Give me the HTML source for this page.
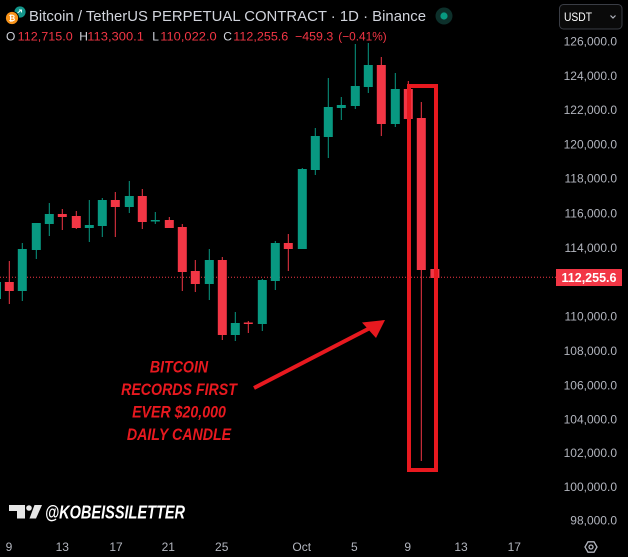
<!DOCTYPE html>
<html><head><meta charset="utf-8"><style>
html,body{margin:0;padding:0;background:#000;}
svg{display:block;}
</style></head><body>
<svg width="628" height="557" viewBox="0 0 628 557" xmlns="http://www.w3.org/2000/svg" font-family="'Liberation Sans', sans-serif">
<rect width="628" height="557" fill="#000"/>

<!-- header -->
<circle cx="20" cy="12" r="5.6" fill="#12958a"/>
<path d="M17.5 13 L21.5 10 M19 10 L21.5 10 L21.5 12.5" stroke="#e8fffb" stroke-width="1" fill="none"/>
<circle cx="12" cy="18" r="7" fill="#000"/>
<circle cx="12" cy="18" r="6.1" fill="#f7931a"/>
<text x="12" y="21" font-size="8" font-weight="bold" fill="#fff" text-anchor="middle">₿</text>
<text x="29" y="21" font-size="14.5" fill="#d1d4dc" textLength="397" lengthAdjust="spacingAndGlyphs">Bitcoin / TetherUS PERPETUAL CONTRACT · 1D · Binance</text>
<circle cx="444" cy="16" r="8.5" fill="#0d302b"/>
<circle cx="444" cy="16" r="3.6" fill="#089981"/>

<g font-size="12">
<text x="6" y="40.5" fill="#d1d4dc">O</text>
<text x="17.7" y="40.5" fill="#f23645" textLength="55" lengthAdjust="spacingAndGlyphs">112,715.0</text>
<text x="79.3" y="40.5" fill="#d1d4dc">H</text>
<text x="87.3" y="40.5" fill="#f23645" textLength="56.7" lengthAdjust="spacingAndGlyphs">113,300.1</text>
<text x="152.3" y="40.5" fill="#d1d4dc">L</text>
<text x="160.3" y="40.5" fill="#f23645" textLength="56.4" lengthAdjust="spacingAndGlyphs">110,022.0</text>
<text x="223.3" y="40.5" fill="#d1d4dc">C</text>
<text x="233.3" y="40.5" fill="#f23645" textLength="55" lengthAdjust="spacingAndGlyphs">112,255.6</text>
<text x="295" y="40.5" fill="#f23645" textLength="38.3" lengthAdjust="spacingAndGlyphs">−459.3</text>
<text x="338.3" y="40.5" fill="#f23645" textLength="48.4" lengthAdjust="spacingAndGlyphs">(−0.41%)</text>
</g>

<!-- USDT button -->
<rect x="559.5" y="4.5" width="62.5" height="24.5" rx="4" fill="#0a0a0a" stroke="#3a3d45" stroke-width="1"/>
<text x="564" y="21" font-size="12" fill="#ffffff" textLength="28" lengthAdjust="spacingAndGlyphs">USDT</text>
<path d="M610.5 15.5 L613 18 L615.5 15.5" stroke="#b2b5be" stroke-width="1.2" fill="none"/>

<!-- price axis labels -->
<g font-size="12" fill="#b2b5be" text-anchor="end">
<text x="617" y="45.6">126,000.0</text>
<text x="617" y="80">124,000.0</text>
<text x="617" y="114">122,000.0</text>
<text x="617" y="148.3">120,000.0</text>
<text x="617" y="182.6">118,000.0</text>
<text x="617" y="217.6">116,000.0</text>
<text x="617" y="252">114,000.0</text>
<text x="617" y="320.6">110,000.0</text>
<text x="617" y="355">108,000.0</text>
<text x="617" y="389.3">106,000.0</text>
<text x="617" y="423.3">104,000.0</text>
<text x="617" y="457">102,000.0</text>
<text x="617" y="491">100,000.0</text>
<text x="617" y="524.3">98,000.0</text>
</g>

<!-- time axis labels -->
<g font-size="12" fill="#b2b5be" text-anchor="middle">
<text x="9" y="551">9</text>
<text x="62.3" y="551">13</text>
<text x="116" y="551">17</text>
<text x="168.3" y="551">21</text>
<text x="221.7" y="551">25</text>
<text x="301.7" y="551">Oct</text>
<text x="354.3" y="551">5</text>
<text x="407.7" y="551">9</text>
<text x="461" y="551">13</text>
<text x="514.3" y="551">17</text>
</g>
<!-- settings icon -->
<polygon points="597,547 594,552.2 588,552.2 585,547 588,541.8 594,541.8" fill="none" stroke="#b2b5be" stroke-width="1.3"/>
<circle cx="591" cy="547" r="2" fill="none" stroke="#b2b5be" stroke-width="1.3"/>

<!-- last price dotted line -->
<line x1="0" y1="277.3" x2="556" y2="277.3" stroke="#f23645" stroke-width="1" stroke-dasharray="1,2"/>

<!-- candles -->
<g>
<!-- green -->
<g fill="#089981">
<rect x="-8" y="282" width="9" height="17"/>
<rect x="21.8" y="243" width="1" height="58"/><rect x="17.8" y="249" width="9" height="42"/>
<rect x="35.8" y="223" width="1" height="36"/><rect x="31.8" y="223" width="9" height="27"/>
<rect x="48.8" y="203" width="1" height="33"/><rect x="44.8" y="214" width="9" height="10"/>
<rect x="88.8" y="200" width="1" height="42"/><rect x="84.8" y="225" width="9" height="3"/>
<rect x="101.8" y="198" width="1" height="39"/><rect x="97.8" y="200" width="9" height="26"/>
<rect x="128.8" y="181" width="1" height="32"/><rect x="124.8" y="196" width="9" height="11"/>
<rect x="154.8" y="212" width="1" height="12"/><rect x="150.8" y="220" width="9" height="1.5"/>
<rect x="208.8" y="249" width="1" height="51"/><rect x="204.8" y="260" width="9" height="24"/>
<rect x="234.8" y="312" width="1" height="29"/><rect x="230.8" y="323" width="9" height="12"/>
<rect x="261.8" y="279" width="1" height="52"/><rect x="257.8" y="280" width="9" height="44"/>
<rect x="274.8" y="241" width="1" height="49"/><rect x="270.8" y="243" width="9" height="38"/>
<rect x="301.8" y="168" width="1" height="81"/><rect x="297.8" y="169" width="9" height="80"/>
<rect x="314.8" y="128" width="1" height="47"/><rect x="310.8" y="136" width="9" height="34"/>
<rect x="327.8" y="78" width="1" height="80"/><rect x="323.8" y="107" width="9" height="30"/>
<rect x="340.8" y="97" width="1" height="23"/><rect x="336.8" y="105" width="9" height="3"/>
<rect x="354.8" y="44" width="1" height="65"/><rect x="350.8" y="86" width="9" height="20"/>
<rect x="367.8" y="43" width="1" height="50"/><rect x="363.8" y="65" width="9" height="22"/>
<rect x="394.8" y="73" width="1" height="54"/><rect x="390.8" y="89" width="9" height="35"/>
</g>
<!-- red -->
<g fill="#f23645">
<rect x="8.8" y="261" width="1" height="43"/><rect x="4.8" y="282" width="9" height="9"/>
<rect x="61.8" y="209" width="1" height="21"/><rect x="57.8" y="214" width="9" height="3"/>
<rect x="75.8" y="211" width="1" height="18"/><rect x="71.8" y="216" width="9" height="12"/>
<rect x="114.8" y="192" width="1" height="45"/><rect x="110.8" y="200" width="9" height="7"/>
<rect x="141.8" y="189" width="1" height="40"/><rect x="137.8" y="196" width="9" height="26"/>
<rect x="168.8" y="217" width="1" height="11"/><rect x="164.8" y="220" width="9" height="8"/>
<rect x="181.8" y="224" width="1" height="67"/><rect x="177.8" y="227" width="9" height="45"/>
<rect x="194.8" y="260" width="1" height="32"/><rect x="190.8" y="271" width="9" height="13"/>
<rect x="221.8" y="257" width="1" height="83"/><rect x="217.8" y="260" width="9" height="75"/>
<rect x="247.8" y="321" width="1" height="12"/><rect x="243.8" y="322.5" width="9" height="1.5"/>
<rect x="287.8" y="234" width="1" height="37"/><rect x="283.8" y="243" width="9" height="6"/>
<rect x="380.8" y="57" width="1" height="79"/><rect x="376.8" y="65" width="9" height="59"/>
<rect x="407.8" y="81" width="1" height="40"/><rect x="403.8" y="89" width="9" height="30"/>
<rect x="420.8" y="102" width="1" height="359"/><rect x="416.8" y="118" width="9" height="152"/>
<rect x="434.4" y="265" width="1" height="15"/><rect x="430.4" y="269" width="9" height="9"/>
</g>
</g>

<!-- price label -->
<rect x="556" y="269" width="66" height="17" fill="#f23645"/>
<text x="589" y="282" font-size="12.5" font-weight="bold" fill="#ffffff" text-anchor="middle">112,255.6</text>

<!-- highlight rectangle -->
<rect x="409" y="86" width="27" height="384" fill="none" stroke="#e8191f" stroke-width="4"/>

<!-- arrow -->
<line x1="254" y1="388" x2="370" y2="328" stroke="#e8191f" stroke-width="4" stroke-linecap="butt"/>
<polygon points="385,320 362,322.5 376,338" fill="#e8191f"/>

<!-- annotation text -->
<g font-size="16.5" font-weight="bold" font-style="italic" fill="#e8191f" text-anchor="middle" transform="translate(179,0) scale(0.86,1)">
<text x="0" y="372.7">BITCOIN</text>
<text x="0" y="395.2">RECORDS FIRST</text>
<text x="0" y="417.7">EVER $20,000</text>
<text x="0" y="440.2">DAILY CANDLE</text>
</g>

<!-- watermark -->
<g fill="#e6e6e6">
<rect x="9" y="505" width="16" height="6"/>
<rect x="17" y="505" width="8" height="13.5"/>
<circle cx="29" cy="508" r="2.8"/>
<polygon points="34.5,505 42,505 36,518.5 29.5,518.5"/>
</g>
<text x="45" y="518.3" font-size="18.5" font-weight="bold" font-style="italic" fill="#ffffff" textLength="140" lengthAdjust="spacingAndGlyphs">@KOBEISSILETTER</text>
</svg>
</body></html>
